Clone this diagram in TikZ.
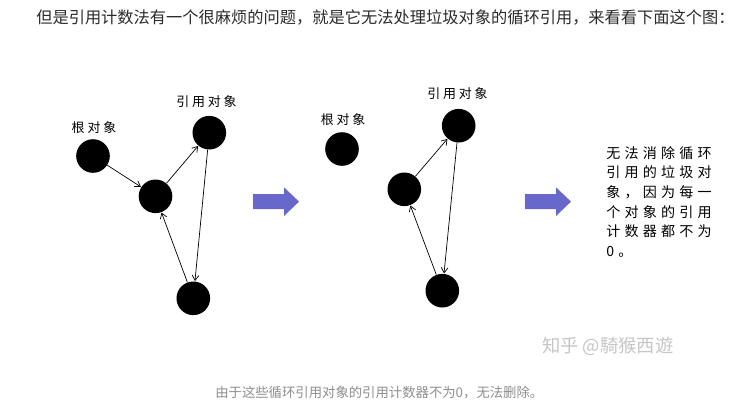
\documentclass[tikz,border=0pt]{standalone}
\usepackage{fontspec}
\setmainfont{Noto Sans CJK SC}
\newfontfamily\cjk{Noto Sans CJK SC}
\newfontfamily\cjkwide[LetterSpace=22]{Noto Sans CJK SC}
\newfontfamily\cjknote[LetterSpace=30]{Noto Sans CJK SC}
\usetikzlibrary{arrows.meta}
\definecolor{ink}{HTML}{2B2B2B}
\definecolor{capgray}{HTML}{8F8F8F}
\definecolor{markgray}{HTML}{C6C6C6}
\definecolor{flowblue}{HTML}{6868CC}
\tikzset{every node/.style={font=\cjk},
 obj/.style={circle,fill=black,inner sep=0pt,minimum size=.84cm},
 lbl/.style={font=\cjkwide\fontsize{9.2}{11}\selectfont,text=black,inner sep=0pt},
 ref/.style={-{Straight Barb[length=1.3mm,width=1.7mm]},draw=black,line width=.5pt,shorten >=.2pt}}

\begin{document}
\begin{tikzpicture}[x=.025cm,y=-.025cm]

\path[use as bounding box,fill=white] (0,0) rectangle (737,409);
\node[anchor=west,text=ink,inner sep=0pt,font=\cjk\fontsize{11.55}{13}\selectfont] (head) at (36,17)
 {但是引用计数法有一个很麻烦的问题，就是它无法处理垃圾对象的循环引用，来看看下面这个图：};

% before
\node[obj] (root1) at (93,156) {};
\node[obj] (mid1) at (155.5,196.3) {};
\node[obj] (top1) at (209.3,132.7) {};
\node[obj] (bot1) at (193.3,298.3) {};
\node[lbl] (rootlbl1) at (94,127.7) {根对象};
\node[lbl] (toplbl1) at (206.5,101.7) {引用对象};
\draw[ref] (root1)--(mid1);
\draw[ref] (mid1)--(top1);
\draw[ref] (top1)--(bot1);
\draw[ref] (bot1)--(mid1);

% after
\node[obj] (root2) at (342,149) {};
\node[obj] (mid2) at (404.3,189.3) {};
\node[obj] (top2) at (458.7,125.7) {};
\node[obj] (bot2) at (442.3,290.7) {};
\node[lbl] (rootlbl2) at (343,120) {根对象};
\node[lbl] (toplbl2) at (457.5,94) {引用对象};
\draw[ref] (mid2)--(top2);
\draw[ref] (top2)--(bot2);
\draw[ref] (bot2)--(mid2);

\foreach \ax in {253,525}{
 \fill[flowblue] (\ax,194)--(\ax+31,194)--(\ax+31,187.3)--(\ax+46,201.6)--(\ax+31,216)--(\ax+31,209)--(\ax,209)--cycle;}

\node[anchor=north west,align=left,inner sep=0pt,text=black,font=\cjknote\fontsize{10}{14}\selectfont] (note) at (606,146)
 {无法消除循环\\引用的垃圾对\\象，因为每一\\个对象的引用\\计数器都不为\\0。};

\node[anchor=west,inner sep=0pt,text=markgray,font=\cjk\fontsize{13}{15}\selectfont] (mark) at (542,346.7) {知乎 @騎猴西遊};
\node[anchor=west,inner sep=0pt,text=capgray,font=\cjk\fontsize{9.5}{11}\selectfont] (cap) at (215,393)
 {由于这些循环引用对象的引用计数器不为0，无法删除。};

\end{tikzpicture}
\end{document}
